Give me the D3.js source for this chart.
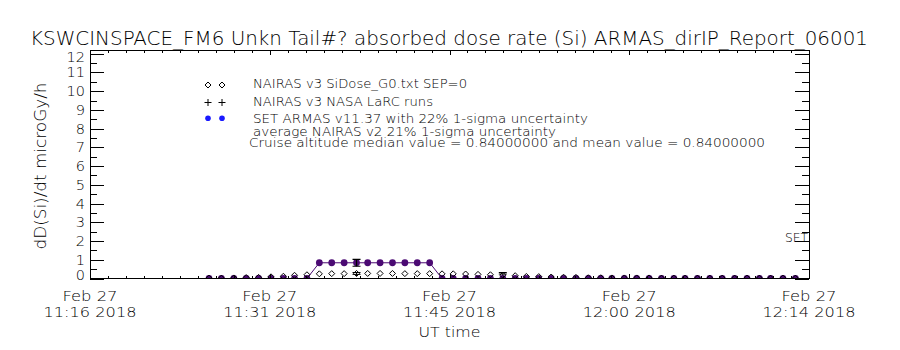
<!DOCTYPE html>
<html>
<head>
<meta charset="utf-8">
<script src="https://cdn.jsdelivr.net/npm/d3@7"></script>
<style>
  html, body { margin: 0; padding: 0; background: #fff; }
  text { font-family: "DejaVu Sans", sans-serif; font-weight: 200; fill: #000; }
</style>
</head>
<body>
<svg id="chart" width="900" height="350"></svg>
<script>
// ---------------- DATA ----------------
const titleText = "KSWCINSPACE_FM6 Unkn Tail#? absorbed dose rate (Si) ARMAS_dirIP_Report_06001";
const yAxisTitle = "dD(Si)/dt microGy/h";
const xAxisTitle = "UT time";
const xTickDates = ["Feb 27", "Feb 27", "Feb 27", "Feb 27", "Feb 27"];
const xTickTimes = ["11:16 2018", "11:31 2018", "11:45 2018", "12:00 2018", "12:14 2018"];
const xTickMinutes = [0, 14.5, 29, 43.5, 58];   // minutes after 11:16 UT
const yTickValues = [0, 1, 2, 3, 4, 5, 6, 7, 8, 9, 10, 11, 12];

// sample times (minutes after 11:16 UT)
const sampleMinutes = [9.6, 10.6, 11.6, 12.6, 13.6, 14.6, 15.6, 16.5, 17.5, 18.5,
  19.5, 20.5, 21.5, 22.4, 23.4, 24.4, 25.4, 26.4, 27.4, 28.4,
  29.3, 30.3, 31.3, 32.3, 33.3, 34.3, 35.2, 36.2, 37.2, 38.2,
  39.2, 40.2, 41.2, 42.1, 43.1, 44.1, 45.1, 46.1, 47.1, 48.0,
  49.0, 50.0, 51.0, 52.0, 53.0, 54.0, 54.9, 55.9, 56.9];
// NAIRAS v3 SiDose_G0 (diamonds)
const nairasV3 = [0.02, 0.02, 0.03, 0.05, 0.06, 0.09, 0.12, 0.17, 0.20, 0.25,
  0.26, 0.26, 0.27, 0.27, 0.27, 0.27, 0.26, 0.26, 0.26, 0.25,
  0.25, 0.24, 0.22, 0.20, 0.18, 0.15, 0.11, 0.10, 0.08, 0.07,
  0.06, 0.04, 0.04, 0.03, 0.03, 0.03, 0.03, 0.02, 0.02, 0.02,
  0.02, 0.02, 0.02, 0.02, 0.02, 0.02, 0.02, 0.02, 0.02];
// SET ARMAS v11.37 (purple)
const setArmas = [0, 0, 0, 0, 0, 0, 0, 0, 0, 0.84,
  0.84, 0.84, 0.84, 0.84, 0.84, 0.84, 0.84, 0.84, 0.84, 0,
  0, 0, 0, 0, 0, 0, 0, 0, 0, 0,
  0, 0, 0, 0, 0, 0, 0, 0, 0, 0,
  0, 0, 0, 0, 0, 0, 0, 0, 0];
// SET ARMAS error bar (22% 1-sigma)
const setErrMinutes = [21.5];
const setErrValues = [0.84];
const setErrSigma = [0.185];
// NAIRAS v3 NASA LaRC runs (plus signs)
const larcMinutes = [21.5, 33.3];
const larcValues = [0.22, 0.24];
const larcSigma = [0.1, 0.08];

const legendLabels = [
  "NAIRAS v3 SiDose_G0.txt SEP=0",
  "NAIRAS v3 NASA LaRC runs",
  "SET ARMAS v11.37 with 22% 1-sigma uncertainty",
  "average NAIRAS v2 21% 1-sigma uncertainty",
  "Cruise altitude median value = 0.84000000 and mean value = 0.84000000"
];
const sideLabel = "SET";

// ---------------- LAYOUT ----------------
const L = 90, R = 809, T = 50, B = 278.5;
const purple = "#4B0A73";
const svg = d3.select("#chart");
svg.append("rect").attr("width", 900).attr("height", 350).attr("fill", "#fff");

const x = d3.scaleLinear().domain([0, 58]).range([L, R]);
const y = d3.scaleLinear().domain([0, 12.2]).range([B, T]);

svg.append("defs").append("clipPath").attr("id", "plotclip")
  .append("rect").attr("x", L).attr("y", T).attr("width", R - L).attr("height", B - T);

function txt(g, s, px, py, opts) {
  const t = g.append("text").attr("x", px).attr("y", py).text(s);
  if (opts.size) t.style("font-size", opts.size + "px");
  if (opts.anchor) t.attr("text-anchor", opts.anchor);
  if (opts.len) t.attr("textLength", opts.len).attr("lengthAdjust", "spacingAndGlyphs");
  if (opts.rotate) t.attr("transform", `rotate(${opts.rotate},${px},${py})`);
  return t;
}

// Title
txt(svg, titleText, 30, 45, {size: 19, len: 838});

// ---------------- DATA MARKS ----------------
const plot = svg.append("g").attr("clip-path", "url(#plotclip)");
const pts = sampleMinutes.map((m, i) => ({m, v: nairasV3[i], s: setArmas[i]}));

// SET line
plot.append("path")
  .datum(pts)
  .attr("fill", "none").attr("stroke", purple).attr("stroke-width", 1)
  .attr("d", d3.line().x(d => x(d.m)).y(d => y(d.s)));

// SET markers
plot.selectAll("circle.set").data(pts).join("circle")
  .attr("class", "set")
  .attr("cx", d => x(d.m)).attr("cy", d => y(d.s)).attr("r", 3.4)
  .attr("fill", purple);

// SET error bar
setErrMinutes.forEach((m, i) => {
  const cx = x(m), y1 = y(setErrValues[i] + setErrSigma[i]), y0 = y(setErrValues[i] - setErrSigma[i]);
  const g = plot.append("g").attr("stroke", "#000").attr("stroke-width", 1.2);
  g.append("line").attr("x1", cx).attr("x2", cx).attr("y1", y0).attr("y2", y1);
  g.append("line").attr("x1", cx - 4).attr("x2", cx + 4).attr("y1", y0).attr("y2", y0);
  g.append("line").attr("x1", cx - 4).attr("x2", cx + 4).attr("y1", y1).attr("y2", y1);
});

// Diamonds
const dia = (cx, cy, r) => `M${cx},${cy - r}L${cx + r},${cy}L${cx},${cy + r}L${cx - r},${cy}Z`;
plot.selectAll("path.dia").data(pts).join("path")
  .attr("class", "dia")
  .attr("d", d => dia(x(d.m), y(d.v), 3))
  .attr("fill", "none").attr("stroke", "#000").attr("stroke-width", 1);

// LaRC pluses with error bars
larcMinutes.forEach((m, i) => {
  const cx = x(m), cy = y(larcValues[i]);
  const g = plot.append("g").attr("stroke", "#000").attr("stroke-width", 1);
  g.append("line").attr("x1", cx - 4).attr("x2", cx + 4).attr("y1", cy).attr("y2", cy);
  g.append("line").attr("x1", cx).attr("x2", cx).attr("y1", y(larcValues[i] + larcSigma[i])).attr("y2", y(larcValues[i] - larcSigma[i]));
  g.append("line").attr("x1", cx - 4).attr("x2", cx + 4)
    .attr("y1", y(larcValues[i] + larcSigma[i])).attr("y2", y(larcValues[i] + larcSigma[i]));
});

// ---------------- AXES ----------------
const ax = svg.append("g").attr("stroke", "#000").attr("stroke-width", 1).attr("shape-rendering", "crispEdges");
ax.append("rect").attr("x", L).attr("y", T).attr("width", R - L).attr("height", B - T).attr("fill", "none");

// x ticks: majors at label positions, 10 minor intervals each
const xMinor = d3.range(0, 40 + 1).map(k => xTickMinutes[0] + k * (xTickMinutes[1] - xTickMinutes[0]) / 10);
xMinor.forEach((m, k) => {
  const len = (k % 10 === 0) ? 5 : 3;
  const px = Math.round(x(m)) + 0.5;
  ax.append("line").attr("x1", px).attr("x2", px).attr("y1", B).attr("y2", B - len);
  ax.append("line").attr("x1", px).attr("x2", px).attr("y1", T).attr("y2", T + len);
});
// y ticks: majors each unit, minors at halves
const yMinor = d3.range(0, 24 + 1).map(k => k * 0.5);
yMinor.forEach((v, k) => {
  const len = (k % 2 === 0) ? 14 : 7;
  const py = Math.round(y(v)) + 0.5;
  ax.append("line").attr("x1", L).attr("x2", L + len).attr("y1", py).attr("y2", py);
  ax.append("line").attr("x1", R).attr("x2", R - len).attr("y1", py).attr("y2", py);
});

// y tick labels (ends nudged inward as in the original)
yTickValues.forEach(v => {
  let py = y(v) + 5;
  if (v === yTickValues[0]) py -= 4;
  if (v === yTickValues[yTickValues.length - 1]) py += 3;
  txt(svg, String(v), 85, py, {size: 14.5, anchor: "end"});
});

// x tick labels
xTickMinutes.forEach((m, i) => {
  txt(svg, xTickDates[i], x(m), 300.5, {size: 14, anchor: "middle", len: 55});
  txt(svg, xTickTimes[i], x(m), 316.5, {size: 14, anchor: "middle", len: 93});
});
txt(svg, xAxisTitle, (L + R) / 2, 337, {size: 14, anchor: "middle", len: 62});

// y axis title
txt(svg, yAxisTitle, 46, 166, {size: 15, anchor: "middle", len: 167, rotate: -90});

// ---------------- LEGEND ----------------
const lg = svg.append("g");
[208, 222].forEach(px => {
  lg.append("path").attr("d", dia(px, 85, 3)).attr("fill", "none").attr("stroke", "#000");
  lg.append("line").attr("x1", px - 3.5).attr("x2", px + 3.5).attr("y1", 102.5).attr("y2", 102.5).attr("stroke", "#000");
  lg.append("line").attr("x1", px).attr("x2", px).attr("y1", 99).attr("y2", 106).attr("stroke", "#000");
  lg.append("circle").attr("cx", px).attr("cy", 118.3).attr("r", 2.8).attr("fill", "#1a1aff");
});
const legendPos = [[253, 87.5, 214], [253, 106, 180], [253, 122.5, 335], [253, 136, 303], [249, 146.5, 516]];
legendLabels.forEach((s, i) => {
  txt(lg, s, legendPos[i][0], legendPos[i][1], {size: 12.5, len: legendPos[i][2]});
});

txt(svg, sideLabel, 785, 242, {size: 12.5, len: 23});
</script>
</body>
</html>
